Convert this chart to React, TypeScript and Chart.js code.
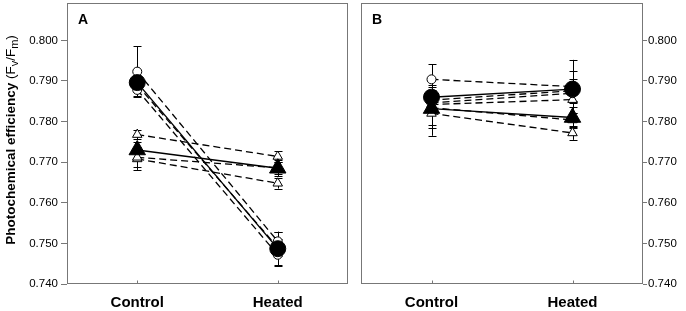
import React, { useEffect, useRef } from "react";
import { Chart, registerables } from "chart.js";

Chart.register(...registerables);

const FONT = 'Arial, "Liberation Sans", Helvetica, sans-serif';

// ---------- data ----------
const categories = ["Control", "Heated"];
const yTicks = [0.74, 0.75, 0.76, 0.77, 0.78, 0.79, 0.8];
const yMin = 0.74;
const yMax = 0.8092;

// Panel A (circles)
const aCircMean = [0.7896, 0.7487];
const aCircMeanErr = [0.001, 0.004];
const aCircRep1 = [0.7923, 0.7505];
const aCircRep1Err = [0.0062, 0.0024];
const aCircRep2 = [0.789, 0.749];
const aCircRep2Err = [0.0012, 0.002];
const aCircRep3 = [0.7878, 0.7472];
const aCircRep3Err = [0.0015, 0.0027];
// Panel A (triangles)
const aTriMean = [0.773, 0.7685];
const aTriMeanErr = [0.002, 0.002];
const aTriRep1 = [0.7768, 0.7714];
const aTriRep1Err = [0.0012, 0.0013];
const aTriRep2 = [0.7712, 0.7686];
const aTriRep2Err = [0.0025, 0.0015];
const aTriRep3 = [0.7708, 0.7648];
const aTriRep3Err = [0.0027, 0.0013];

// Panel B (circles)
const bCircMean = [0.786, 0.788];
const bCircMeanErr = [0.003, 0.0072];
const bCircRep1 = [0.7904, 0.7886];
const bCircRep1Err = [0.0037, 0.0038];
const bCircRep2 = [0.7853, 0.7876];
const bCircRep2Err = [0.0025, 0.003];
const bCircRep3 = [0.7846, 0.787];
const bCircRep3Err = [0.0022, 0.002];
// Panel B (triangles)
const bTriMean = [0.7832, 0.781];
const bTriMeanErr = [0.004, 0.0025];
const bTriRep1 = [0.7842, 0.7854];
const bTriRep1Err = [0.002, 0.0032];
const bTriRep2 = [0.7834, 0.7804];
const bTriRep2Err = [0.005, 0.0018];
const bTriRep3 = [0.782, 0.7772];
const bTriRep3Err = [0.0055, 0.0017];

type Series = {
  values: number[];
  errors: number[];
  shape: "circle" | "triangle";
  mean: boolean;
};

const panelA: Series[] = [
  { values: aCircMean, errors: aCircMeanErr, shape: "circle", mean: true },
  { values: aTriMean, errors: aTriMeanErr, shape: "triangle", mean: true },
  { values: aCircRep1, errors: aCircRep1Err, shape: "circle", mean: false },
  { values: aCircRep2, errors: aCircRep2Err, shape: "circle", mean: false },
  { values: aCircRep3, errors: aCircRep3Err, shape: "circle", mean: false },
  { values: aTriRep1, errors: aTriRep1Err, shape: "triangle", mean: false },
  { values: aTriRep2, errors: aTriRep2Err, shape: "triangle", mean: false },
  { values: aTriRep3, errors: aTriRep3Err, shape: "triangle", mean: false },
];

const panelB: Series[] = [
  { values: bCircMean, errors: bCircMeanErr, shape: "circle", mean: true },
  { values: bTriMean, errors: bTriMeanErr, shape: "triangle", mean: true },
  { values: bCircRep1, errors: bCircRep1Err, shape: "circle", mean: false },
  { values: bCircRep2, errors: bCircRep2Err, shape: "circle", mean: false },
  { values: bCircRep3, errors: bCircRep3Err, shape: "circle", mean: false },
  { values: bTriRep1, errors: bTriRep1Err, shape: "triangle", mean: false },
  { values: bTriRep2, errors: bTriRep2Err, shape: "triangle", mean: false },
  { values: bTriRep3, errors: bTriRep3Err, shape: "triangle", mean: false },
];

function makeDatasets(list: Series[]) {
  return list.map((s) => ({
    data: s.values,
    errors: s.errors,
    showLine: true,
    borderColor: "#000",
    borderWidth: s.mean ? 1.4 : 1.3,
    borderDash: s.mean ? [] : [7, 4],
    pointStyle: s.shape,
    pointRadius: s.shape === "circle" ? (s.mean ? 8 : 4.5) : s.mean ? 9.5 : 5.5,
    pointBackgroundColor: s.mean ? "#000" : "#fff",
    pointBorderColor: "#000",
    pointBorderWidth: 1,
    fill: false,
    tension: 0,
    clip: false as const,
  }));
}

const errorBarPlugin = {
  id: "errorBars",
  beforeDatasetsDraw(chart: any) {
    const ctx = chart.ctx;
    const yScale = chart.scales.y;
    ctx.save();
    ctx.strokeStyle = "#000";
    ctx.lineWidth = 1;
    for (let i = chart.data.datasets.length - 1; i >= 0; i--) {
      const ds: any = chart.data.datasets[i];
      const meta = chart.getDatasetMeta(i);
      ds.data.forEach((v: number, j: number) => {
        const e = ds.errors[j];
        const x = Math.round(meta.data[j].x) + 0.5;
        const yt = yScale.getPixelForValue(v + e);
        const yb = yScale.getPixelForValue(v - e);
        ctx.beginPath();
        ctx.moveTo(x, yt);
        ctx.lineTo(x, yb);
        ctx.moveTo(x - 4, Math.round(yt) + 0.5);
        ctx.lineTo(x + 4, Math.round(yt) + 0.5);
        ctx.moveTo(x - 4, Math.round(yb) + 0.5);
        ctx.lineTo(x + 4, Math.round(yb) + 0.5);
        ctx.stroke();
      });
    }
    ctx.restore();
  },
};

const decorPlugin = {
  id: "panelDecor",
  afterDraw(chart: any, _args: any, opts: any) {
    const ctx = chart.ctx;
    const a = chart.chartArea;
    ctx.save();
    // frame
    ctx.strokeStyle = "#777";
    ctx.lineWidth = 1;
    const l = Math.round(a.left) + 0.5;
    const t = Math.round(a.top) + 0.5;
    const r = Math.round(a.right) - 0.5;
    const b = Math.round(a.bottom) - 0.5;
    ctx.strokeRect(l, t, r - l, b - t);
    // small inward x ticks
    const xs = chart.scales.x;
    categories.forEach((_c, i) => {
      const x = Math.round(xs.getPixelForValue(i)) + 0.5;
      ctx.beginPath();
      ctx.moveTo(x, b);
      ctx.lineTo(x, b - 3);
      ctx.stroke();
    });
    // panel letter
    ctx.fillStyle = "#000";
    ctx.font = `bold 14px ${FONT}`;
    ctx.textBaseline = "alphabetic";
    ctx.textAlign = "left";
    ctx.fillText(opts.letter, a.left + 11, 24);
    // y title with subscripts
    if (opts.yTitle) {
      const parts: [string, string, number][] = [
        ["Photochemical efficiency ", `bold 13.5px ${FONT}`, 0],
        ["(F", `13.5px ${FONT}`, 0],
        ["v", `11px ${FONT}`, 3],
        ["/F", `13.5px ${FONT}`, 0],
        ["m", `11px ${FONT}`, 3],
        [")", `13.5px ${FONT}`, 0],
      ];
      let total = 0;
      parts.forEach(([txt, f]) => {
        ctx.font = f;
        total += ctx.measureText(txt).width;
      });
      ctx.translate(15, 140);
      ctx.rotate(-Math.PI / 2);
      let x = -total / 2;
      parts.forEach(([txt, f, dy]) => {
        ctx.font = f;
        ctx.fillText(txt, x, dy);
        x += ctx.measureText(txt).width;
      });
    }
    ctx.restore();
  },
};

function makeConfig(list: Series[], side: "left" | "right", letter: string, yTitle: boolean, pad: any, yWidth: number) {
  return {
    type: "line" as const,
    data: { labels: categories, datasets: makeDatasets(list) as any },
    plugins: [errorBarPlugin, decorPlugin],
    options: {
      animation: false as const,
      responsive: false,
      events: [],
      layout: { padding: pad, autoPadding: false },
      plugins: {
        legend: { display: false },
        tooltip: { enabled: false },
        panelDecor: { letter, yTitle },
      } as any,
      scales: {
        x: {
          type: "category" as const,
          offset: true,
          grid: { display: false, drawTicks: false },
          border: { display: false },
          ticks: {
            color: "#000",
            font: { family: FONT, size: 15, weight: "bold" as const },
            padding: 10,
            maxRotation: 0,
          },
          afterFit(s: any) {
            s.height = 27;
            s.paddingLeft = 0;
            s.paddingRight = 0;
          },
        },
        y: {
          type: "linear" as const,
          position: side,
          min: yMin,
          max: yMax,
          afterBuildTicks(s: any) {
            s.ticks = yTicks.map((v) => ({ value: v }));
          },
          afterFit(s: any) {
            s.width = yWidth;
            s.paddingTop = 0;
            s.paddingBottom = 0;
          },
          grid: {
            display: true,
            drawOnChartArea: false,
            drawTicks: true,
            tickLength: side === "left" ? 6 : 4,
            color: "#777",
          },
          border: { display: false },
          ticks: {
            color: "#000",
            font: { family: FONT, size: 11.5 },
            padding: side === "left" ? 3 : 1,
            callback: (v: any) => Number(v).toFixed(3),
          },
        },
      },
    },
  };
}

function Panel(props: { list: Series[]; side: "left" | "right"; letter: string; yTitle: boolean; pad: any; yWidth: number; width: number; left: number }) {
  const ref = useRef<HTMLCanvasElement | null>(null);
  useEffect(() => {
    if (!ref.current) return;
    const chart = new Chart(ref.current, makeConfig(props.list, props.side, props.letter, props.yTitle, props.pad, props.yWidth) as any);
    return () => chart.destroy();
  }, []);
  return (
    <div style={{ position: "absolute", left: props.left, top: 0, width: props.width, height: 311 }}>
      <canvas ref={ref} width={props.width} height={311} style={{ width: props.width, height: 311, display: "block" }} />
    </div>
  );
}

export default function App() {
  return (
    <div style={{ position: "absolute", left: 0, top: 0, width: 686, height: 311, background: "#fff" }}>
      <Panel list={panelA} side="left" letter="A" yTitle={true} pad={{ top: 3, right: 4, bottom: 0, left: 0 }} yWidth={67} width={352} left={0} />
      <Panel list={panelB} side="right" letter="B" yTitle={false} pad={{ top: 3, right: 0, bottom: 0, left: 9 }} yWidth={43} width={334} left={352} />
    </div>
  );
}
